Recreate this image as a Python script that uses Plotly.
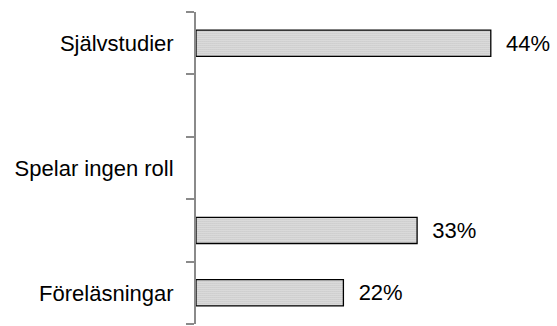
import plotly.graph_objects as go

categories = ["Självstudier", "", "Spelar ingen roll", "", "Föreläsningar"]
values = [44, None, None, 33, 22]
tick_labels = ["Självstudier", "", "Spelar ingen roll", "", "Föreläsningar"]

positions = list(range(len(categories)))
texts = ["\u00a0\u00a0" + f"{v:.0f}%" if v is not None else "" for v in values]

fig = go.Figure()
fig.add_trace(go.Bar(
    y=positions,
    x=values,
    orientation="h",
    width=0.42,
    text=texts,
    textposition="outside",
    cliponaxis=False,
    textfont=dict(family="Liberation Sans, Arial, sans-serif", size=22, color="black"),
    marker=dict(
        color="white",
        line=dict(color="black", width=1.3),
        pattern=dict(shape=".", size=2, solidity=0.6, fgcolor="#5a5a5a", bgcolor="white", fillmode="overlay"),
    ),
    hoverinfo="skip",
))

fig.update_layout(
    width=557, height=326,
    margin=dict(l=196, r=26, t=12, b=2),
    paper_bgcolor="white", plot_bgcolor="white",
    showlegend=False,
    font=dict(family="Liberation Sans, Arial, sans-serif", size=22, color="black"),
    xaxis=dict(range=[0, 50], visible=False, fixedrange=True),
    yaxis=dict(
        range=[len(categories) - 0.5, -0.5],
        tickmode="array",
        tickvals=positions,
        ticktext=tick_labels,
        ticks="",
        showgrid=False,
        zeroline=False,
        showline=True,
        linecolor="#8a8a8a",
        linewidth=2,
        ticklabelstandoff=16,
        minor=dict(
            tickmode="array",
            tickvals=[p - 0.5 for p in positions] + [positions[-1] + 0.5],
            ticks="outside",
            ticklen=8,
            tickwidth=2,
            tickcolor="#8a8a8a",
            showgrid=False,
        ),
    ),
)

fig.write_html("out.html")
